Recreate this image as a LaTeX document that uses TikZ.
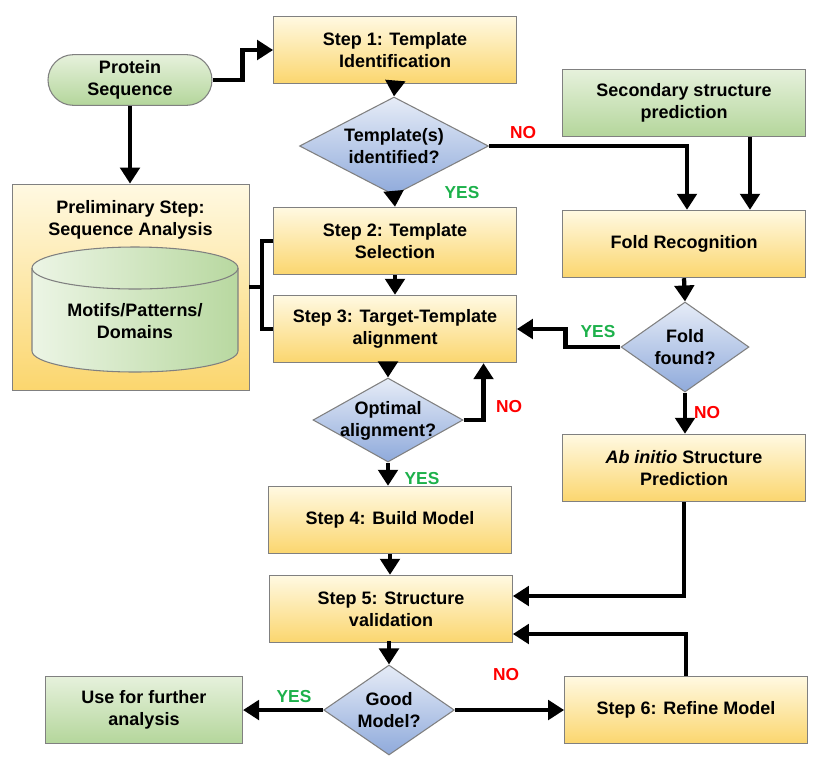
\documentclass[tikz,border=0pt]{standalone}
\usepackage{fontspec}
\setmainfont{Liberation Sans}
\usetikzlibrary{shapes.geometric,shapes.misc,arrows.meta,calc}
\definecolor{ytop}{RGB}{255,249,226}
\definecolor{ybot}{RGB}{251,214,110}
\definecolor{gtop}{RGB}{230,241,220}
\definecolor{gbot}{RGB}{180,214,155}
\definecolor{btop}{RGB}{230,236,247}
\definecolor{bbot}{RGB}{143,170,219}
\definecolor{cyl1}{RGB}{236,245,229}
\definecolor{cyl2}{RGB}{184,216,160}
\definecolor{bord}{RGB}{128,128,128}
\definecolor{nored}{RGB}{255,0,0}
\definecolor{yesgreen}{RGB}{29,177,75}
\begin{document}
\begin{tikzpicture}[x=0.75pt,y=-0.75pt,
 font=\fontsize{13.5}{16.5}\selectfont\bfseries,
 box/.style={rectangle, draw=bord, line width=0.8pt, top color=ytop, bottom color=ybot,
   minimum width=182pt, minimum height=50.5pt, align=center, inner sep=2pt},
 gbox/.style={box, top color=gtop, bottom color=gbot},
 dia/.style={diamond, draw=bord, line width=0.8pt, top color=btop, bottom color=bbot, inner sep=0pt},
 arr/.style={line width=3.2pt, -{Triangle[width=14.5pt,length=12pt]}},
 conn/.style={line width=3.2pt, line join=miter},
 yes/.style={text=yesgreen, font=\fontsize{13}{15}\selectfont\bfseries},
 no/.style={text=nored, font=\fontsize{13}{15}\selectfont\bfseries}
]
\useasboundingbox[fill=white] (0,0) rectangle (824,758);

% nodes
\node[rounded rectangle, draw=bord, line width=0.8pt, top color=gtop, bottom color=gbot,
      minimum width=127pt, minimum height=38pt, align=center, inner sep=2pt]
      (prot) at (130,80) {Protein\\Sequence};
\node[box] (s1) at (395,50) {Step 1: Template\\Identification};
\node[dia, minimum width=141.75pt, minimum height=73.5pt,
      label={[name=d1t,align=center]center:Template(s)\\identified?}] (d1) at (394,146) {};
\node[gbox] (ssp) at (684,103) {Secondary structure\\prediction};
\node[box] (fold) at (684,244) {Fold Recognition};
\node[box] (s2) at (395,241) {Step 2: Template\\Selection};
\node[box] (s3) at (395,329) {Step 3: Target-Template\\alignment};
\node[box, line width=0.6pt, minimum width=177.75pt, minimum height=154.5pt,
      label={[name=prelimt,align=center,anchor=north,yshift=-9pt]north:Preliminary Step:\\Sequence Analysis}]
      (prelim) at (130.5,287) {};
\node[dia, minimum width=96pt, minimum height=67.5pt,
      label={[name=dfoldt,align=center]center:Fold\\found?}] (dfold) at (685,347) {};
\node[dia, minimum width=112.5pt, minimum height=63pt,
      label={[name=d2t,align=center,yshift=-1pt]center:Optimal\\alignment?}] (d2) at (388,420) {};
\node[box] (ab) at (684,468) {\textit{Ab initio} Structure\\Prediction};
\node[box] (s4) at (390,520) {Step 4: Build Model};
\node[box] (s5) at (391,609) {Step 5: Structure\\validation};
\node[dia, minimum width=98pt, minimum height=67.5pt,
      label={[name=d3t,align=center]center:Good\\Model?}] (d3) at (389,710) {};
\node[gbox, minimum width=147.75pt] (use) at (144,710) {Use for further\\analysis};
\node[box] (ref) at (686,710) {Step 6: Refine Model};

% cylinder
\path[draw=bord, line width=0.8pt, left color=cyl1, right color=cyl2]
  (32,268) -- (32,351) arc[start angle=180, end angle=360, x radius=77.25pt, y radius=15.75pt]
  -- (238,268) arc[start angle=0, end angle=180, x radius=77.25pt, y radius=15.75pt] -- cycle;
\draw[bord, line width=0.8pt] (32,268) arc[start angle=180, end angle=360, x radius=77.25pt, y radius=15.75pt];
\node[align=center] (cyl) at (135,321) {Motifs/Patterns/\\Domains};

% connectors
\draw[arr] (prot.east) -- ++(30,0) |- (s1.west);
\draw[arr] (prot.south) -- (prot.south |- prelim.north);
\draw[arr] (s1.south) -- (d1.north);
\draw[arr] (d1.south) -- (s2.north);
\draw[arr] (d1.east) -| ($(fold.north)+(3,0)$);
\draw[arr] ($(ssp.south)+(66,0)$) -- ($(fold.north)+(66,0)$);
\draw[conn] (s2.west) -- ++(-11,0) coordinate (brtop) |- (s3.west);
\draw[conn] (prelim.east) -- (prelim.east -| brtop);
\draw[arr] (s2.south) -- (s3.north);
\draw[arr] (d2.north |- s3.south) -- (d2.north);
\draw[arr] (d2.east) -- ++(20,0) coordinate (nc) -- (nc |- s3.south);
\draw[arr] (d2.south) -- (d2.south |- s4.north);
\draw[arr] (fold.south) -- (dfold.north);
\draw[arr] (dfold.west) -- ++(-55,0) |- (s3.east);
\draw[arr] (dfold.south) -- (dfold.south |- ab.north);
\draw[arr] (s4.south) -- (s4.south |- s5.north);
\draw[arr] (ab.south) |- ($(s5.east)+(0,-13)$);
\draw[arr] (ref.north) |- ($(s5.east)+(0,25)$);
\draw[arr] (s5.south) -- (s5.south -| d3.north) -- (d3.north);
\draw[arr] (d3.west) -- (use.east);
\draw[arr] (d3.east) -- (ref.west);

% labels
\node[no] (l1) at (523,133) {NO};
\node[yes] (l2) at (462,193) {YES};
\node[yes] (l3) at (598,332) {YES};
\node[no] (l4) at (707,413) {NO};
\node[no] (l5) at (509,407) {NO};
\node[yes] (l6) at (422,479) {YES};
\node[yes] (l7) at (294,697) {YES};
\node[no] (l8) at (506,675) {NO};
\end{tikzpicture}
\end{document}
